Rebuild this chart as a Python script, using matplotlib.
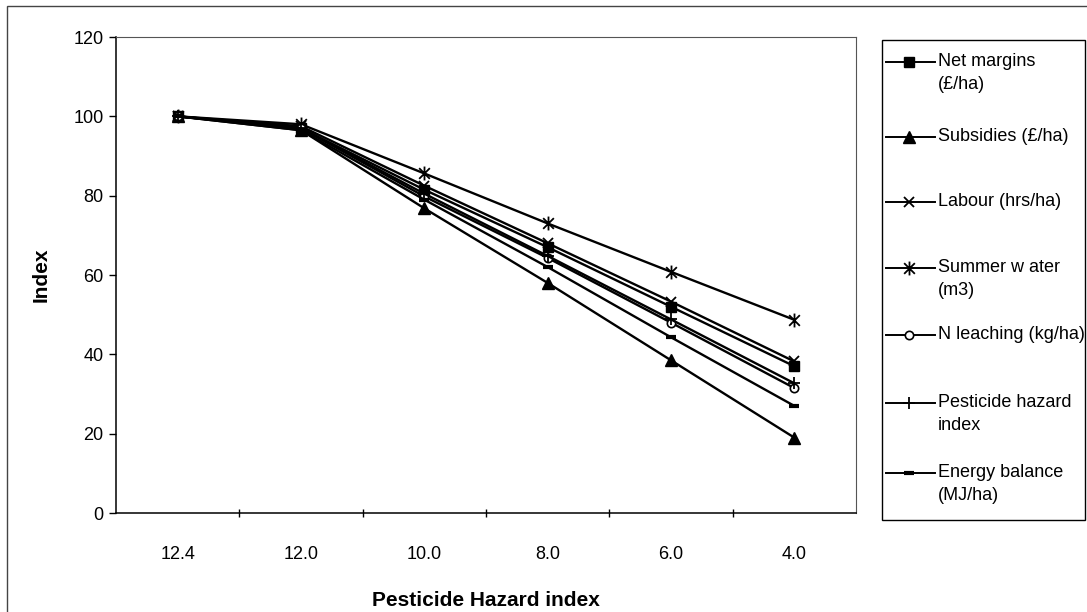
import matplotlib
matplotlib.use("Agg")
import matplotlib.pyplot as plt
from matplotlib.lines import Line2D
from matplotlib.patches import Rectangle
from matplotlib.path import Path

plt.rcParams['font.family'] = ['Liberation Sans', 'DejaVu Sans']

# categorias del eje x (indice de riesgo de pesticidas)
categorias = ["12.4", "12.0", "10.0", "8.0", "6.0", "4.0"]

net_margins = [100, 97.0, 81.5, 67.0, 52.0, 37.0]
subsidies = [100, 96.5, 76.8, 58.0, 38.5, 19.0]
labour = [100, 97.5, 82.5, 68.0, 53.3, 38.2]
summer_water = [100, 98.0, 85.6, 73.0, 60.8, 48.7]
n_leaching = [100, 97.0, 79.8, 64.3, 48.0, 31.5]
pesticide = [100, 97.0, 80.5, 64.8, 48.8, 32.7]
energy = [100, 96.5, 79.0, 62.0, 44.3, 27.0]

etiquetas = ["Net margins\n(£/ha)", "Subsidies (£/ha)", "Labour (hrs/ha)",
             "Summer w ater\n(m3)", "N leaching (kg/ha)",
             "Pesticide hazard\nindex", "Energy balance\n(MJ/ha)"]

series = [net_margins, subsidies, labour, summer_water, n_leaching, pesticide, energy]

# asterisco tipo Excel: una x con una raya vertical
estrella = Path([(-1, -1), (1, 1), (-1, 1), (1, -1), (0, -1.3), (0, 1.3)],
                [Path.MOVETO, Path.LINETO, Path.MOVETO, Path.LINETO, Path.MOVETO, Path.LINETO])

# estilo de marcador para cada serie
estilos = [
    dict(marker='s', markersize=7, markerfacecolor='black'),
    dict(marker='^', markersize=8, markerfacecolor='black'),
    dict(marker='x', markersize=7, markeredgewidth=1.3),
    dict(marker=estrella, markersize=10, markeredgewidth=1.3),
    dict(marker='o', markersize=6, markerfacecolor='white', markeredgewidth=1.2),
    dict(marker='+', markersize=9, markeredgewidth=1.3),
    dict(marker='_', markersize=7, markeredgewidth=3),
]

W, H = 1087, 612
fig = plt.figure(figsize=(W / 100, H / 100), dpi=100)

# borde exterior del grafico
fig.add_artist(Rectangle((7 / W, -0.05), 1.2, 1 - 6 / H + 0.05, transform=fig.transFigure,
                         fill=False, edgecolor='#444444', linewidth=1.0))

ax = fig.add_axes([116 / W, 1 - 513 / H, 740 / W, 476 / H])
x = list(range(len(categorias)))

for datos, est in zip(series, estilos):
    ax.plot(x, datos, color='black', linewidth=1.7, markeredgecolor='black', **est)

ax.set_xlim(-0.5, len(categorias) - 0.5)
ax.set_ylim(0, 120)
ax.set_yticks(range(0, 121, 20))
ax.tick_params(axis='y', direction='out', length=5, width=1, labelsize=13, pad=4)

# marcas entre categorias, etiquetas en el centro
ax.set_xticks([i + 0.5 for i in x[:-1]])
ax.set_xticklabels([])
ax.tick_params(axis='x', which='major', direction='inout', length=6, width=1)
ax.set_xticks(x, minor=True)
ax.set_xticklabels(categorias, minor=True)
ax.tick_params(axis='x', which='minor', length=0, labelsize=13, pad=24)

ax.set_xlabel("Pesticide Hazard index", fontsize=15, fontweight='bold', labelpad=20)
ax.set_ylabel("Index", fontsize=15, fontweight='bold', labelpad=16)

for lado in ['top', 'right']:
    ax.spines[lado].set_color('#555555')
    ax.spines[lado].set_linewidth(0.8)
for lado in ['left', 'bottom']:
    ax.spines[lado].set_linewidth(1.1)

# leyenda dibujada a mano
fig.add_artist(Rectangle((882 / W, 1 - 520 / H), (1085 - 882) / W, (520 - 40) / H,
                         transform=fig.transFigure, fill=False, edgecolor='black', linewidth=1.0))
filas_y = [62, 137, 202, 268, 335, 403, 473]
for fy, etiqueta, est in zip(filas_y, etiquetas, estilos):
    yy = 1 - fy / H
    fig.add_artist(Line2D([886 / W, 935 / W], [yy, yy], transform=fig.transFigure,
                          color='black', linewidth=1.4))
    fig.add_artist(Line2D([909 / W], [yy], transform=fig.transFigure, linestyle='none',
                          color='black', markeredgecolor='black', **est))
    fig.text(938 / W, yy + 9 / H, etiqueta, fontsize=13, va='top', ha='left', linespacing=1.45)

fig.savefig("out.png", dpi=100)
